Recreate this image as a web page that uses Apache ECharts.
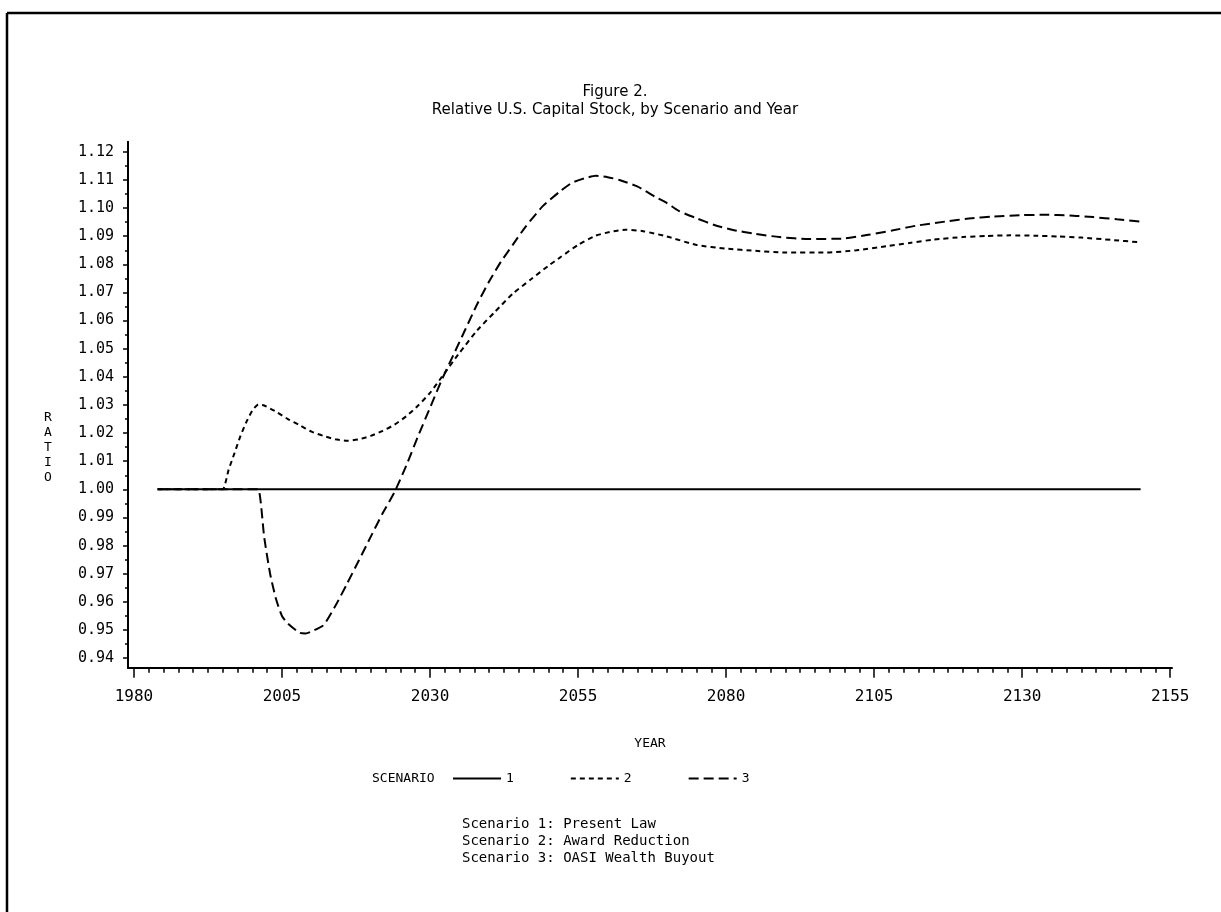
<!DOCTYPE html>
<html>
<head>
<meta charset="utf-8">
<script src="https://cdn.jsdelivr.net/npm/echarts@6/dist/echarts.min.js"></script>
<style>
html,body{margin:0;padding:0;background:#fff;}
#chart{width:1221px;height:912px;}
</style>
</head>
<body>
<div id="chart"></div>
<script>
// ---- data ----
const titleLines = ['Figure 2.', 'Relative U.S. Capital Stock, by Scenario and Year'];
const xTickLabels = [1980, 2005, 2030, 2055, 2080, 2105, 2130, 2155];
const yTickLabels = [0.94, 0.95, 0.96, 0.97, 0.98, 0.99, 1.00, 1.01, 1.02, 1.03, 1.04, 1.05, 1.06, 1.07, 1.08, 1.09, 1.10, 1.11, 1.12];
const scenarioNames = ['1', '2', '3'];
const scenarioNotes = ['Scenario 1: Present Law', 'Scenario 2: Award Reduction', 'Scenario 3: OASI Wealth Buyout'];

const years1 = [1984, 2150];
const ratio1 = [1.000, 1.000];

const years2 = [1984, 1994, 1995, 1996, 1997, 1998, 1999, 2000, 2001, 2002, 2004, 2006, 2008, 2010, 2012, 2014, 2016, 2018, 2020, 2022, 2024, 2026, 2028, 2030, 2032, 2035, 2038, 2041, 2044, 2047, 2050, 2052, 2055, 2058, 2061, 2063, 2066, 2070, 2075, 2080, 2085, 2090, 2097, 2102, 2107, 2111, 2115, 2120, 2124, 2128, 2132, 2136, 2140, 2145, 2150];
const ratio2 = [1.000, 1.000, 1.000, 1.007, 1.013, 1.019, 1.024, 1.028, 1.0302, 1.0298, 1.0276, 1.0250, 1.0228, 1.0205, 1.0190, 1.0178, 1.0173, 1.0178, 1.0190, 1.0208, 1.0230, 1.0260, 1.0298, 1.0343, 1.0400, 1.0486, 1.0566, 1.0632, 1.0696, 1.0746, 1.0795, 1.0825, 1.0869, 1.0902, 1.0918, 1.0923, 1.0918, 1.0899, 1.0869, 1.0856, 1.0848, 1.0842, 1.0842, 1.0850, 1.0864, 1.0876, 1.0888, 1.0897, 1.0901, 1.0903, 1.0902, 1.0899, 1.0895, 1.0887, 1.0878];

const years3 = [1984, 2000, 2001, 2002, 2003, 2004, 2005, 2006, 2008, 2009, 2010, 2012, 2014, 2016, 2018, 2020, 2022, 2024, 2026, 2028, 2030, 2032, 2034, 2036, 2038, 2040, 2042, 2044, 2046, 2049, 2052, 2054, 2056, 2058, 2060, 2062, 2065, 2068, 2070, 2072, 2075, 2078, 2081, 2085, 2089, 2094, 2100, 2104, 2108, 2112, 2117, 2121, 2125, 2130, 2134, 2138, 2142, 2146, 2150];
const ratio3 = [1.000, 1.000, 1.000, 0.983, 0.970, 0.961, 0.955, 0.9523, 0.9490, 0.9488, 0.9495, 0.9517, 0.9585, 0.9665, 0.9748, 0.9832, 0.9915, 0.9990, 1.0085, 1.0190, 1.0290, 1.0390, 1.0480, 1.0570, 1.0660, 1.0740, 1.0810, 1.0870, 1.0930, 1.1006, 1.1060, 1.1090, 1.1105, 1.1115, 1.1110, 1.1100, 1.1077, 1.1040, 1.1018, 1.0990, 1.0964, 1.0940, 1.0923, 1.0908, 1.0897, 1.0890, 1.0892, 1.0905, 1.0920, 1.0937, 1.0952, 1.0963, 1.0970, 1.0975, 1.0976, 1.0974, 1.0968, 1.0960, 1.0952];

// ---- helpers ----
const pairs = (xs, ys) => xs.map((x, i) => [x, ys[i]]);
const minorX = [];
for (let i = 0; i < xTickLabels.length - 1; i++) {
  const a = xTickLabels[i], b = xTickLabels[i + 1];
  for (let k = 1; k < 10; k++) minorX.push(a + (b - a) * k / 10);
}
const minorY = [];
for (let i = 0; i < yTickLabels.length - 1; i++) {
  minorY.push((yTickLabels[i] + yTickLabels[i + 1]) / 2);
}

const MONO = '"DejaVu Sans Mono", monospace';
const SANS = '"DejaVu Sans", sans-serif';

const chart = echarts.init(document.getElementById('chart'), null, {renderer: 'canvas'});

const baseLine = {type: 'line', symbol: 'none', smooth: 0.2, animation: false, silent: true,
  itemStyle: {color: '#000'}};

chart.setOption({
  backgroundColor: '#fff',
  animation: false,
  color: ['#000', '#000', '#000'],
  title: {
    text: titleLines.join('\n'),
    left: 610, top: 78, textAlign: 'center',
    textStyle: {fontFamily: SANS, fontSize: 15, fontWeight: 'normal', color: '#000', lineHeight: 18}
  },
  legend: {
    data: scenarioNames,
    orient: 'horizontal',
    left: 452, top: 772, padding: 0,
    itemWidth: 48, itemHeight: 14, itemGap: 56,
    itemStyle: {opacity: 0},
    textStyle: {fontFamily: MONO, fontSize: 13, color: '#000'},
    selectedMode: false
  },
  grid: {left: 128, top: 141.7, width: 1044, height: 526, containLabel: false},
  xAxis: [{
    type: 'value', min: 1979, max: 2155.3,
    axisLine: {show: true, lineStyle: {color: '#000', width: 2}},
    axisTick: {show: true, customValues: xTickLabels, length: 10, lineStyle: {color: '#000', width: 1.5}},
    axisLabel: {show: true, customValues: xTickLabels, margin: 21, fontFamily: MONO, fontSize: 16, color: '#000',
      formatter: v => String(Math.round(v))},
    splitLine: {show: false},
    name: 'YEAR', nameLocation: 'middle', nameGap: 69,
    nameTextStyle: {fontFamily: MONO, fontSize: 13, color: '#000'}
  }, {
    type: 'value', min: 1979, max: 2155.3, position: 'bottom',
    axisLine: {show: false},
    axisTick: {show: true, customValues: minorX, length: 5, lineStyle: {color: '#000', width: 1.5}},
    axisLabel: {show: false},
    splitLine: {show: false}
  }],
  yAxis: [{
    type: 'value', min: 0.9366, max: 1.1236,
    axisLine: {show: true, lineStyle: {color: '#000', width: 2}},
    axisTick: {show: true, customValues: yTickLabels, length: 5, lineStyle: {color: '#000', width: 1.5}},
    axisLabel: {show: true, customValues: yTickLabels, margin: 14, fontFamily: MONO, fontSize: 15, color: '#000',
      formatter: v => Number(v).toFixed(2)},
    splitLine: {show: false}
  }, {
    type: 'value', min: 0.9366, max: 1.1236, position: 'left',
    axisLine: {show: false},
    axisTick: {show: true, customValues: minorY, length: 3, lineStyle: {color: '#000', width: 1.5}},
    axisLabel: {show: false},
    splitLine: {show: false}
  }],
  series: [
    Object.assign({}, baseLine, {name: '1', data: pairs(years1, ratio1), z: 3, smooth: false,
      lineStyle: {color: '#000', width: 2, type: 'solid'}}),
    Object.assign({}, baseLine, {name: '2', data: pairs(years2, ratio2), z: 2,
      lineStyle: {color: '#000', width: 2, type: [5, 4]}}),
    Object.assign({}, baseLine, {name: '3', data: pairs(years3, ratio3), z: 2,
      lineStyle: {color: '#000', width: 2, type: [10, 5]}})
  ],
  graphic: [
    {type: 'line', shape: {x1: 7, y1: 13, x2: 1221, y2: 13}, style: {stroke: '#000', lineWidth: 2.5}, silent: true},
    {type: 'line', shape: {x1: 7, y1: 13, x2: 7, y2: 912}, style: {stroke: '#000', lineWidth: 2.5}, silent: true},
    {type: 'text', left: 44, top: 410, style: {text: 'R\nA\nT\nI\nO', fontFamily: MONO, fontSize: 13, lineHeight: 15, fill: '#000', align: 'center'}, silent: true},
    {type: 'text', left: 372, top: 771, style: {text: 'SCENARIO', fontFamily: MONO, fontSize: 13, lineHeight: 16, fill: '#000'}, silent: true},
    {type: 'text', left: 462, top: 816, style: {text: scenarioNotes.join('\n'), fontFamily: MONO, fontSize: 14, lineHeight: 17, fill: '#000'}, silent: true}
  ]
});
</script>
</body>
</html>
